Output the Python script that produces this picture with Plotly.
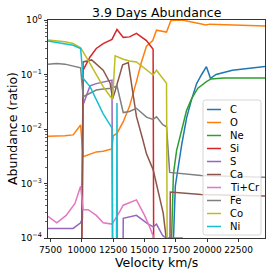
import plotly.graph_objects as go

# ---------------- data ----------------
species = ["C", "O", "Ne", "Si", "S", "Ca", "Ti+Cr", "Fe", "Co", "Ni"]
colors = ["#1f77b4", "#ff7f0e", "#2ca02c", "#d62728", "#9467bd",
          "#8c564b", "#e377c2", "#7f7f7f", "#bcbd22", "#17becf"]

vel_C = [17000, 17450, 17950, 18350, 18750, 19150, 19550, 19930, 20250, 20700, 22000, 24600]
ab_C = [1e-6, 9e-4, 5e-3, 0.016, 0.035, 0.068, 0.10, 0.139, 0.085, 0.10, 0.12, 0.14]

vel_O = [7300, 8000, 8650, 9300, 9900, 10100, 10650, 11150, 11700, 12250, 12400, 12500,
         12800, 13300, 13800, 14350, 14750, 15150, 15650, 15950, 16750, 17100, 18000,
         19900, 20200, 24600]
ab_O = [0.0074, 0.0074, 0.0075, 0.0078, 0.0118, 0.0031, 0.0034, 0.0038, 0.0039, 0.0043,
        0.0043, 0.0075, 0.0083, 0.0136, 0.026, 0.074, 0.17, 0.33, 0.42, 0.65, 0.60, 0.98,
        1.0, 0.81, 0.84, 0.78]

vel_Ne = [16900, 17300, 17550, 17950, 18350, 18750, 19250, 19930, 20300, 21300, 24600]
ab_Ne = [1e-6, 0.0015, 0.004, 0.01, 0.022, 0.036, 0.056, 0.074, 0.083, 0.086, 0.086]

vel_Si = [9900, 10100, 10650, 11150, 11700, 12250, 12400, 12800, 13300, 13800, 14350,
          15150, 15680, 15760]
ab_Si = [1e-7, 0.12, 0.21, 0.30, 0.37, 0.43, 0.44, 0.67, 0.48, 0.49, 0.57, 0.42, 0.29, 1e-7]

vel_S = [7300, 8000, 8650, 9300, 9900, 10050, 10100, 10400, 10650, 11150, 11700, 12250,
         12400, 12500, 13200, 13300, 14350, 15150, 15680, 15950, 16450, 16700, 17200,
         18000, 18500, 24600]
ab_S = [0.00015, 0.00015, 0.00015, 0.00015, 0.00019, 0.00023, 0.028, 0.045, 0.062, 0.068,
        0.072, 0.078, 0.079, 1e-7, 1e-7, 0.00023, 0.00026, 0.00019, 0.00016, 0.00018,
        0.00011, 0.000101, 0.000101, 0.0001, 5e-5, 2e-5]

vel_Ca = [9900, 10100, 10780, 11700, 12250, 12450, 12650, 13250, 13700, 14350, 14850,
          15150, 15680, 16080, 16480, 16700, 16780, 16950, 17050, 19500, 24600]
ab_Ca = [1e-7, 0.17, 0.185, 0.12, 0.07, 0.036, 0.05, 0.15, 0.165, 0.017, 0.0065, 0.0035,
         0.0018, 0.0007, 0.00029, 0.00011, 1e-7, 1e-7, 0.0007, 0.00063, 0.00059]

vel_TiCr = [7300, 8000, 8750, 9450, 9900, 10100, 10500, 11150, 11700, 12400, 12800,
            13300, 14350, 15000, 15400, 15680, 15760, 24600]
ab_TiCr = [0.00025, 0.00019, 0.00026, 0.00043, 0.00089, 0.00033, 0.00033, 0.00026, 0.00019,
           0.00018, 0.00025, 0.0004, 0.0005, 0.00026, 0.00016, 0.00011, 1e-6, 1e-6]

vel_Fe = [7300, 8000, 8650, 9300, 9900, 10100, 10650, 11150, 11700, 12250, 12400, 12800,
          13300, 13800, 14350, 15150, 15680, 15950, 16450, 16750, 17000, 19500, 24600]
ab_Fe = [0.155, 0.16, 0.155, 0.145, 0.133, 0.039, 0.046, 0.052, 0.054, 0.056, 0.056, 0.062,
         0.02, 0.021, 0.024, 0.0165, 0.015, 0.0167, 0.012, 0.011, 0.0016, 0.0014, 0.0013]

vel_Co = [7300, 8000, 8650, 9300, 9900, 10400, 10800, 11150, 11700, 12250, 12450, 12650,
          13300, 13800, 14350, 15680, 15950, 16750, 16850]
ab_Co = [0.43, 0.42, 0.40, 0.37, 0.31, 0.2, 0.14, 0.1, 0.06, 0.04, 0.035, 0.22, 0.19,
         0.177, 0.17, 0.098, 0.12, 0.069, 1e-7]

vel_Ni = [7300, 8000, 8650, 9300, 9900, 10100, 10650, 11150, 11700, 12400, 12500, 12720,
          12800, 12870]
ab_Ni = [0.41, 0.385, 0.36, 0.345, 0.30, 0.085, 0.06, 0.034, 0.019, 0.0105, 1e-7, 1e-7,
         0.03, 1e-8]

x_ticks = [7500, 10000, 12500, 15000, 17500, 20000, 22500]
x_ticktext = ["7500", "10000", "12500", "15000", "17500", "20000", "22500"]
y_ticks = [1e-4, 1e-3, 1e-2, 1e-1, 1]
y_ticktext = ["10<sup>\u22124</sup>", "10<sup>\u22123</sup>", "10<sup>\u22122</sup>",
              "10<sup>\u22121</sup>", "10<sup>0</sup>"]
x_range = [7300, 24600]

title_text = "3.9 Days Abundance"
xlabel = "Velocity km/s"
ylabel = "Abundance (ratio)"

series = [(vel_C, ab_C), (vel_O, ab_O), (vel_Ne, ab_Ne), (vel_Si, ab_Si), (vel_S, ab_S),
          (vel_Ca, ab_Ca), (vel_TiCr, ab_TiCr), (vel_Fe, ab_Fe), (vel_Co, ab_Co),
          (vel_Ni, ab_Ni)]

# ---------------- layout geometry ----------------
W = H = 274
L, R, T, B = 48, 9, 20, 36
pw, ph = W - L - R, H - T - B
FONT = "DejaVu Sans"


def px(x):
    return (x - L) / pw


def py(y):
    return (H - B - y) / ph


fig = go.Figure()
for name, col, (v, a) in zip(species, colors, series):
    fig.add_trace(go.Scatter(x=v, y=a, mode="lines", name=name,
                             line=dict(color=col, width=1.5), showlegend=False,
                             hoverinfo="skip"))

minor_vals = [m * 10 ** e for e in range(-4, 0) for m in range(2, 10)]

fig.update_layout(
    width=W, height=H,
    margin=dict(l=L, r=R, t=T, b=B, pad=0, autoexpand=False),
    paper_bgcolor="white", plot_bgcolor="white",
    font=dict(family=FONT, color="black", size=10),
    showlegend=False,
    xaxis=dict(range=x_range, tickvals=x_ticks, ticktext=x_ticktext, ticks="outside",
               ticklen=3.5, tickwidth=0.8, tickcolor="black", showline=True,
               linecolor="black", linewidth=0.8, mirror=True, showgrid=False,
               zeroline=False, automargin=False, tickangle=0,
               tickfont=dict(size=9, family=FONT, color="black")),
    yaxis=dict(type="log", range=[-4, 0], tickvals=y_ticks, ticktext=y_ticktext,
               ticks="outside", ticklen=3.5, tickwidth=0.8, tickcolor="black",
               showline=True, linecolor="black", linewidth=0.8, mirror=True,
               showgrid=False, zeroline=False, automargin=False,
               tickfont=dict(size=9.2, family=FONT, color="black"),
               minor=dict(tickvals=minor_vals, ticks="outside", ticklen=2,
                          tickwidth=0.6, tickcolor="black", showgrid=False)),
)

ann = [
    dict(text=title_text, x=0.5, y=py(12.5), xref="paper", yref="paper",
         showarrow=False, xanchor="center", yanchor="middle",
         font=dict(size=12.5, family=FONT, color="black")),
    dict(text=xlabel, x=0.5, y=py(262), xref="paper", yref="paper",
         showarrow=False, xanchor="center", yanchor="middle",
         font=dict(size=12.5, family=FONT, color="black")),
    dict(text=ylabel, x=px(12), y=0.5, xref="paper", yref="paper", textangle=-90,
         showarrow=False, xanchor="center", yanchor="middle",
         font=dict(size=12.5, family=FONT, color="black")),
]

# custom legend (matplotlib-like, compact rows)
lx0, lx1, ly0, ly1 = 203, 261, 100, 235
r = 2.5
path = (f"M {px(lx0 + r)},{py(ly0)} L {px(lx1 - r)},{py(ly0)} "
        f"Q {px(lx1)},{py(ly0)} {px(lx1)},{py(ly0 + r)} "
        f"L {px(lx1)},{py(ly1 - r)} Q {px(lx1)},{py(ly1)} {px(lx1 - r)},{py(ly1)} "
        f"L {px(lx0 + r)},{py(ly1)} Q {px(lx0)},{py(ly1)} {px(lx0)},{py(ly1 - r)} "
        f"L {px(lx0)},{py(ly0 + r)} Q {px(lx0)},{py(ly0)} {px(lx0 + r)},{py(ly0)} Z")
shapes = [dict(type="path", path=path, xref="paper", yref="paper",
               line=dict(color="#cccccc", width=0.8),
               fillcolor="rgba(255,255,255,0.8)", layer="above")]
row0, dy = 109.5, 13.0
for i, (name, col) in enumerate(zip(species, colors)):
    yy = row0 + dy * i
    shapes.append(dict(type="line", xref="paper", yref="paper",
                       x0=px(207), x1=px(221), y0=py(yy), y1=py(yy),
                       line=dict(color=col, width=1.5), layer="above"))
    ann.append(dict(text=name, x=px(228), y=py(yy), xref="paper", yref="paper",
                    showarrow=False, xanchor="left", yanchor="middle",
                    font=dict(size=10, family=FONT, color="black")))

fig.update_layout(annotations=ann, shapes=shapes)
fig.write_html("out.html",
               config={"displayModeBar": False, "staticPlot": True},
               post_script="document.body.style.margin='0px';"
                           "document.body.style.padding='0px';"
                           "document.body.style.overflow='hidden';")
